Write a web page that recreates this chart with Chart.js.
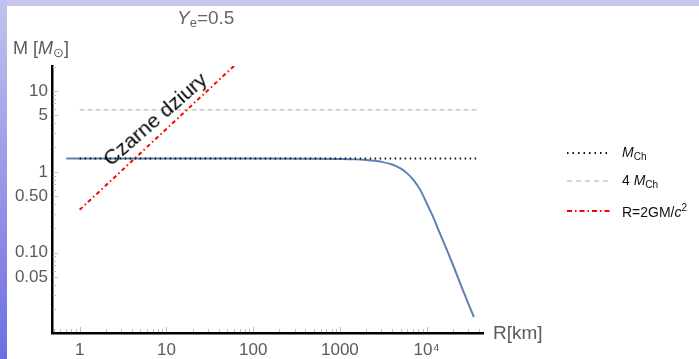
<!DOCTYPE html>
<html>
<head>
<meta charset="utf-8">
<script src="https://cdn.jsdelivr.net/npm/chart.js@4"></script>
<style>
  body { margin: 0; background: #fff; font-family: "Liberation Sans", Arial, sans-serif; }
  #wrap { position: absolute; left: 0; top: 0; width: 699px; height: 359px; overflow: hidden; }
  #topband { position: absolute; left: 0; top: 0; width: 699px; height: 6px; background: #c5c5ee; }
  #leftband { position: absolute; left: 0; top: 0; width: 7px; height: 359px; background: linear-gradient(#c2c2ee, #6e6ee2); }
  .lbl { position: absolute; color: #5a5a5a; white-space: nowrap; }
  .leg { position: absolute; left: 567px; width: 130px; height: 20px; font-size: 14px; color: #111; }
  .leg svg { position: absolute; left: 0; top: 0; }
  .leg span { position: absolute; left: 55px; top: 1px; white-space: nowrap; }
  sub { font-size: 10px; vertical-align: -3px; }
  sup { font-size: 10px; vertical-align: 6px; }
</style>
</head>
<body>
<div id="wrap">
  <canvas id="massChart"></canvas>
  <div id="topband"></div>
  <div id="leftband"></div>
  <div class="lbl" style="left:177px; top:7px; font-size:19px; color:#666"><i>Y</i><sub style="font-size:13px">e</sub>=0.5</div>
  <div class="lbl" style="left:13px; top:38px; font-size:18px">M [<i>M</i><sub style="font-size:13px">&#8857;</sub>]</div>
  <div class="lbl" style="left:493px; top:322px; font-size:19px">R[km]</div>
  <div class="lbl" style="font-size:21px; color:#000; transform: translate(-50%, -50%) rotate(-41deg); left:155px; top:119px;">Czarne dziury</div>

  <div class="leg" style="top:143px">
    <svg width="50" height="20"><line x1="0" y1="10" x2="44" y2="10" stroke="#111" stroke-width="2" stroke-dasharray="1.5,4"/></svg>
    <span><i>M</i><sub>Ch</sub></span>
  </div>
  <div class="leg" style="top:171px">
    <svg width="50" height="20"><line x1="0" y1="10" x2="44" y2="10" stroke="#aaa" stroke-width="1" stroke-dasharray="5,4"/></svg>
    <span>4 <i>M</i><sub>Ch</sub></span>
  </div>
  <div class="leg" style="top:201px">
    <svg width="50" height="20"><line x1="0" y1="10" x2="44" y2="10" stroke="#f00" stroke-width="2" stroke-dasharray="5,3,1.5,3"/></svg>
    <span>R=2GM/<i>c</i><sup>2</sup></span>
  </div>
</div>
<script>
// DATA
// white dwarf mass-radius curve, Ye = 0.5
const radiusKm = [0.7, 1, 10, 100, 500, 1000, 1500, 2000, 2500, 3000, 4000, 5000, 6000, 7000, 8500, 10000, 12000, 14000, 17000, 21000, 25000, 30000, 35000]
const massWD = [1.457, 1.457, 1.457, 1.456, 1.452, 1.44, 1.425, 1.40, 1.37, 1.33, 1.23, 1.10, 0.95, 0.80, 0.59, 0.41, 0.27, 0.18, 0.11, 0.063, 0.039, 0.024, 0.016]

const chandraR = [1, 40000]
const chandraM = [1.457, 1.457]
const fourChandraM = [5.83, 5.83]

// Schwarzschild: M = R / 2.95 km
const horizonR = [1, 65]
const horizonM = [0.339, 22]

const xTickLabels = { 1: '1', 10: '10', 100: '100', 1000: '1000', 10000: '10\u2074' }
const yTickLabels = { 10: '10', 5: '5', 1: '1', 0.5: '0.50', 0.1: '0.10', 0.05: '0.05' }

function pairs (xs, ys) {
    return xs.map((x, i) => ({ x: x, y: ys[i] }))
}

function logTicks (lo, hi) {
    const out = []
    for (let e = -3; e <= 5; e++) {
        for (let m = 1; m <= 9; m++) {
            const v = +(m * Math.pow(10, e)).toPrecision(3)
            if (v >= lo && v <= hi) out.push({ value: v })
        }
    }
    return out
}

// small ticks pointing into the plot
const innerTicks = {
    id: 'innerTicks',
    afterDraw(chart) {
        const { ctx, chartArea, scales } = chart
        ctx.save()
        ctx.strokeStyle = '#c0c0c0'
        ctx.lineWidth = 1
        scales.x.ticks.forEach(t => {
            const px = Math.round(scales.x.getPixelForValue(t.value)) + 0.5
            const len = xTickLabels[t.value] ? 5 : 3
            ctx.beginPath()
            ctx.moveTo(px, chartArea.bottom - 1)
            ctx.lineTo(px, chartArea.bottom - 1 - len)
            ctx.stroke()
        })
        scales.y.ticks.forEach(t => {
            const py = Math.round(scales.y.getPixelForValue(t.value)) + 0.5
            const len = yTickLabels[t.value] ? 5 : 3
            ctx.beginPath()
            ctx.moveTo(chartArea.left + 1, py)
            ctx.lineTo(chartArea.left + 1 + len, py)
            ctx.stroke()
        })
        ctx.restore()
    }
}

const configMass = {
    type: 'line',
    data: {
        datasets: [
            {
                label: 'M_Ch',
                data: pairs(chandraR, chandraM),
                borderColor: '#111',
                borderWidth: 2,
                borderDash: [1.5, 3.5],
                pointRadius: 0,
                order: 1
            },
            {
                label: 'R(M)',
                data: pairs(radiusKm, massWD),
                borderColor: '#5e81b5',
                borderWidth: 2,
                pointRadius: 0,
                cubicInterpolationMode: 'monotone',
                order: 2
            },
            {
                label: '4 M_Ch',
                data: pairs(chandraR, fourChandraM),
                borderColor: '#aaaaaa',
                borderWidth: 1,
                borderDash: [5, 3],
                pointRadius: 0,
                order: 3
            },
            {
                label: 'R=2GM/c2',
                data: pairs(horizonR, horizonM),
                borderColor: '#ff0000',
                borderWidth: 2,
                borderDash: [4, 3, 1.5, 3],
                pointRadius: 0,
                order: 0
            }
        ]
    },
    options: {
        responsive: true,
        maintainAspectRatio: false,
        animation: false,
        layout: { padding: { left: 0, top: 66, right: 216, bottom: 0 } },
        plugins: {
            legend: { display: false },
            tooltip: { enabled: false }
        },
        scales: {
            x: {
                type: 'logarithmic',
                min: 0.48,
                max: 44600,
                grid: { display: false, drawTicks: false },
                border: { display: true, color: '#000', width: 2.5 },
                afterBuildTicks: s => { s.ticks = logTicks(0.48, 44600) },
                afterFit: s => { s.height = 26 },
                ticks: {
                    autoSkip: false,
                    maxRotation: 0,
                    padding: 7,
                    color: '#5a5a5a',
                    font: { family: 'Liberation Sans', size: 17 },
                    callback: v => xTickLabels[v] || ''
                }
            },
            y: {
                type: 'logarithmic',
                min: 0.0102,
                max: 20.3,
                grid: { display: false, drawTicks: false },
                border: { display: true, color: '#000', width: 2.5 },
                afterBuildTicks: s => { s.ticks = logTicks(0.0102, 20.3) },
                afterFit: s => { s.width = 52 },
                ticks: {
                    autoSkip: false,
                    padding: 4,
                    color: '#5a5a5a',
                    font: { family: 'Liberation Sans', size: 17 },
                    callback: v => yTickLabels[v] || ''
                }
            }
        }
    },
    plugins: [innerTicks]
}

const massChart = new Chart(
    document.getElementById('massChart'),
    configMass
)
</script>
</body>
</html>
